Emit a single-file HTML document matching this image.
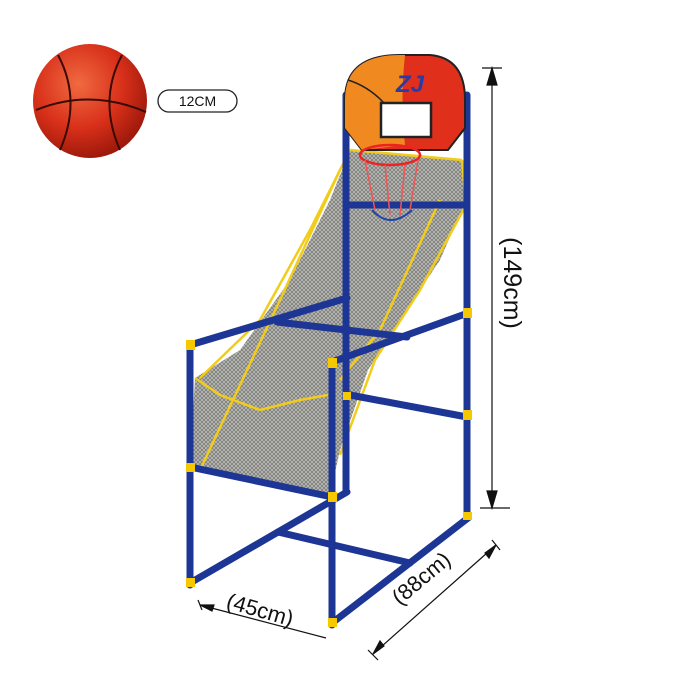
<!DOCTYPE html>
<html><head><style>
html,body{margin:0;padding:0;background:#fff;width:700px;height:700px;overflow:hidden}
</style></head><body>
<svg width="700" height="700" viewBox="0 0 700 700" xmlns="http://www.w3.org/2000/svg" font-family="Liberation Sans, sans-serif">
<defs>
<radialGradient id="ball" cx="40%" cy="35%" r="65%">
<stop offset="0" stop-color="#f06a40"/><stop offset="0.6" stop-color="#d8301a"/><stop offset="1" stop-color="#a01a0c"/>
</radialGradient>
<pattern id="mesh" width="4" height="4" patternUnits="userSpaceOnUse">
<rect width="4" height="4" fill="#aeaeaa"/><path d="M0 0L4 4M4 0L0 4" stroke="#5a5a56" stroke-width="0.6"/>
</pattern>
</defs>
<!-- ball -->
<circle cx="90" cy="101" r="57" fill="url(#ball)"/>
<path d="M36 110 Q90 88 146 112" stroke="#3a0a05" stroke-width="2" fill="none"/>
<path d="M58 55 Q82 100 60 150" stroke="#3a0a05" stroke-width="2" fill="none"/>
<path d="M122 55 Q98 100 120 150" stroke="#3a0a05" stroke-width="2" fill="none"/>
<rect x="158" y="90" width="79" height="22" rx="11" fill="#fff" stroke="#222" stroke-width="1.3"/>
<text x="197.5" y="106" font-size="14" text-anchor="middle" fill="#111">12CM</text>

<!-- net -->
<path d="M350 150 L462 160 L466 200 L440 260 L400 320 L368 370 L340 450 L330 495 L190 470 L195 378 L240 350 L290 280 L330 200 Z" fill="url(#mesh)" opacity="0.9"/>
<g stroke="#f2cc1a" stroke-width="2.5" fill="none">
<path d="M350 150 L462 160"/>
<path d="M350 150 L310 230 L260 320 L200 378"/>
<path d="M462 160 L466 205 L420 290 L375 360 L340 455"/>
<path d="M195 378 L220 395 L260 410 L300 400 L328 395"/>
<path d="M340 170 L280 300 L200 470"/>
<path d="M440 200 L380 330 L340 380"/>
</g>

<!-- frame -->
<g stroke="#1d3594" stroke-width="7" stroke-linecap="round" fill="none">
<line x1="346" y1="95" x2="346" y2="492"/>
<line x1="467" y1="95" x2="467" y2="518"/>
<line x1="348" y1="205" x2="465" y2="205"/>
<line x1="277" y1="322" x2="407" y2="337"/>
<line x1="190" y1="345" x2="347" y2="298"/>
<line x1="350" y1="395" x2="467" y2="417"/>
<line x1="332" y1="362" x2="468" y2="313"/>
<line x1="190" y1="345" x2="190" y2="585"/>
<line x1="332" y1="365" x2="332" y2="625"/>
<line x1="190" y1="467" x2="332" y2="497"/>
<line x1="190" y1="583" x2="347" y2="492"/>
<line x1="278" y1="532" x2="410" y2="563"/>
<line x1="332" y1="623" x2="468" y2="518"/>
</g>
<g fill="#f5c800">
<rect x="186" y="340" width="9" height="10"/><rect x="328" y="358" width="9" height="10"/>
<rect x="186" y="463" width="9" height="9"/><rect x="328" y="492" width="9" height="10"/>
<rect x="186" y="578" width="9" height="9"/><rect x="328" y="618" width="9" height="9"/>
<rect x="463" y="410" width="9" height="10"/><rect x="463" y="308" width="9" height="10"/>
<rect x="463" y="512" width="9" height="8"/><rect x="343" y="392" width="8" height="8"/>
</g>

<!-- backboard -->
<path d="M345 100 Q345 55 400 55 L430 55 Q465 58 465 100 L465 128 L448 150 L362 150 L345 128 Z" fill="#e0301c" stroke="#222" stroke-width="2"/>
<path d="M345 100 Q345 55 400 55 L405 55 Q400 100 405 145 L362 150 L345 128Z" fill="#f08a20"/>
<path d="M348 80 Q380 90 400 125" stroke="#222" stroke-width="1.5" fill="none"/>
<rect x="381" y="103" width="50" height="34" fill="#fff" stroke="#222" stroke-width="2.5"/>
<text x="410" y="92" font-size="24" font-weight="bold" fill="#2a3aa8" font-style="italic" text-anchor="middle">ZJ</text>
<!-- rim -->
<ellipse cx="390" cy="155" rx="30" ry="10" fill="none" stroke="#e22" stroke-width="2.5"/>
<path d="M365 160 L375 210 M385 165 L390 215 M405 165 L400 215 M418 160 L410 210" stroke="#e55" stroke-width="1.5"/>
<path d="M372 210 Q390 230 412 210" stroke="#2244aa" stroke-width="2" fill="none"/>

<!-- dimensions -->
<g stroke="#111" stroke-width="1.2" fill="#111">
<line x1="482" y1="68" x2="502" y2="68"/><line x1="480" y1="508" x2="510" y2="508"/>
<line x1="492" y1="68" x2="492" y2="508"/>
<path d="M487 85 L492 68 L497 85Z"/><path d="M487 491 L492 508 L497 491Z"/>
<line x1="200" y1="605" x2="326" y2="638"/><path d="M200 605 L214 605 L212 611Z"/>
<line x1="198" y1="600" x2="202" y2="610"/>
<line x1="373" y1="654" x2="496" y2="545"/>
<path d="M496 545 L489 558 L485 553Z"/><path d="M373 654 L380 641 L384 646Z"/>
<line x1="492" y1="540" x2="500" y2="550"/><line x1="368" y1="650" x2="378" y2="660"/>
</g>
<text transform="translate(504,283) rotate(90)" font-size="25" text-anchor="middle" fill="#111">(149cm)</text>
<text transform="translate(258,617) rotate(16)" font-size="22" text-anchor="middle" fill="#111">(45cm)</text>
<text transform="translate(426,584) rotate(-40)" font-size="22" text-anchor="middle" fill="#111">(88cm)</text>
</svg>
</body></html>
